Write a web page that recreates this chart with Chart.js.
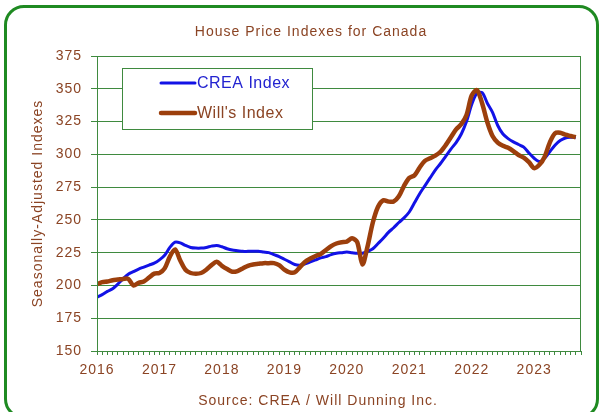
<!DOCTYPE html>
<html>
<head>
<meta charset="utf-8">
<script src="https://cdn.jsdelivr.net/npm/chart.js@4.4.0/dist/chart.umd.min.js"></script>
<style>
html, body { margin: 0; padding: 0; background: #fff; }
#wrap { position: relative; width: 600px; height: 412px; overflow: hidden; }
#frame { position: absolute; left: 4px; top: 5px; width: 595px; height: 414px; border: 3px solid #1f8a22; border-radius: 20px; box-sizing: border-box; pointer-events: none; }
canvas { position: absolute; left: 0; top: 0; }
</style>
</head>
<body>
<div id="wrap">
<canvas id="chart" width="600" height="412"></canvas>
<div id="frame"></div>
</div>
<script>
// monthly, Jan 2016 .. Sep 2023
var startYear = 2016;
var yearLabels = ["2016", "2017", "2018", "2019", "2020", "2021", "2022", "2023"];
var creaIndex = [
  191, 193, 195.5, 197.5, 201, 205, 208.5, 210.5, 212.5, 214, 215.5, 217,
  219.5, 223, 229, 233, 232.5, 230.5, 229, 228.5, 228.5, 229, 230, 230.5,
  229.5, 228, 227, 226.5, 226, 226, 226, 226, 225.5, 225, 223.5, 222,
  220, 218, 216, 215.5, 216.5, 218, 219.5, 221, 222, 223.5, 224.5, 225,
  225.5, 225, 224.5, 224.5, 226, 228, 232, 236, 240.5, 244, 248, 251.5,
  256, 263, 270, 276, 282, 288, 293, 298.5, 304, 309, 315.5, 325,
  338, 346.5, 347, 339, 332, 322, 315.5, 312, 309.5, 307.5, 305.5, 301,
  297, 294.5, 297, 302, 307, 310.5, 312.5, 313, 313
];
var willsIndex = [
  201, 202.5, 203, 204, 204.5, 205, 205, 200, 202, 203, 206, 209,
  209.5, 213, 222, 227.5, 219, 212, 209.5, 209, 209.5, 212, 215.5, 218,
  215, 212.5, 210.5, 211, 213, 215, 216, 216.5, 217, 217, 217, 215.5,
  212, 210, 210, 214, 218, 220.5, 222.5, 224, 227, 230, 232, 233,
  233.5, 236, 233, 216, 230, 248, 260, 265, 264, 264, 268, 276,
  282, 284, 290, 295, 297, 299, 302, 307, 313, 319, 323, 330,
  345, 349, 339, 324.5, 314, 309, 306.5, 305, 302.5, 299.5, 297.5, 294,
  289.5, 292, 298, 309, 316, 316.5, 315, 314, 313
];
var yMin = 150, yMax = 375, yStep = 25;

var chartTitle = "House Price Indexes for Canada";
var sourceNote = "Source: CREA / Will Dunning Inc.";
var yTitle = "Seasonally-Adjusted Indexes";

var green = "#3f8a3f";
var textBrown = "#8b4424";
var lineBrown = "#9c3f0c";
var lineBlue = "#1212e6";
var fontFamily = '"Liberation Sans", Arial, sans-serif';

// title, source, plot border and the boxed legend
var framePlugin = {
  id: "frame",
  beforeDraw: function(chart) {
    chart.ctx.letterSpacing = "1px";
  },
  afterDraw: function(chart) {
    var ctx = chart.ctx;
    var a = chart.chartArea;
    ctx.save();
    ctx.strokeStyle = green;
    ctx.lineWidth = 1;
    ctx.strokeRect(a.left + 0.5, a.top + 0.5, a.right - a.left - 1, a.bottom - a.top);

    ctx.fillStyle = textBrown;
    ctx.font = "14px " + fontFamily;
    ctx.textAlign = "center";
    ctx.textBaseline = "middle";
    ctx.fillText(chartTitle, 311, 32);
    ctx.fillText(sourceNote, 318, 401);

    // legend
    ctx.fillStyle = "#fff";
    ctx.fillRect(122, 68, 190, 61);
    ctx.strokeRect(122.5, 68.5, 190, 61);
    var sets = chart.data.datasets;
    var textCols = ["#2323d0", textBrown];
    ctx.font = "16px " + fontFamily;
    ctx.letterSpacing = "0.5px";
    ctx.textAlign = "left";
    for (var i = 0; i < sets.length; i++) {
      var y = 83 + i * 30;
      ctx.strokeStyle = sets[i].borderColor;
      ctx.lineWidth = sets[i].borderWidth;
      ctx.lineCap = "round";
      ctx.beginPath();
      ctx.moveTo(161, y);
      ctx.lineTo(195, y);
      ctx.stroke();
      ctx.fillStyle = textCols[i];
      ctx.fillText(sets[i].label, 197, y + 1);
    }
    ctx.restore();
  }
};

function toPoints(arr) {
  return arr.map(function(v, i) { return { x: i, y: v }; });
}

var ctx = document.getElementById("chart").getContext("2d");
new Chart(ctx, {
  type: "line",
  data: {
    datasets: [{
      label: "CREA Index",
      data: toPoints(creaIndex),
      borderColor: lineBlue,
      borderWidth: 3,
      pointRadius: 0,
      tension: 0.3,
      borderJoinStyle: "round",
      order: 2
    }, {
      label: "Will's Index",
      data: toPoints(willsIndex),
      borderColor: lineBrown,
      borderWidth: 4.5,
      pointRadius: 0,
      tension: 0.3,
      borderJoinStyle: "round",
      order: 1
    }]
  },
  options: {
    responsive: false,
    animation: false,
    layout: { padding: { top: 56, right: 19, bottom: 0, left: 0 } },
    plugins: {
      legend: { display: false },
      tooltip: { enabled: false }
    },
    scales: {
      x: {
        type: "linear",
        min: 0,
        max: 93,
        afterFit: function(s) { s.height = 61; },
        ticks: {
          stepSize: 1,
          autoSkip: false,
          maxRotation: 0,
          color: textBrown,
          font: { family: fontFamily, size: 14 },
          padding: 7,
          callback: function(v) {
            return v % 12 === 0 ? yearLabels[v / 12] : "";
          }
        },
        grid: { drawOnChartArea: false, drawTicks: true, tickLength: 4, color: green },
        border: { color: green }
      },
      y: {
        min: yMin,
        max: yMax,
        afterFit: function(s) { s.width = 97; },
        ticks: {
          stepSize: yStep,
          color: textBrown,
          font: { family: fontFamily, size: 14 },
          padding: 9
        },
        grid: { color: green, tickLength: 6 },
        border: { color: green },
        title: {
          display: true,
          text: yTitle,
          color: textBrown,
          font: { family: fontFamily, size: 14 },
          padding: { top: 30, bottom: 0 }
        }
      }
    }
  },
  plugins: [framePlugin]
});
</script>
</body>
</html>
